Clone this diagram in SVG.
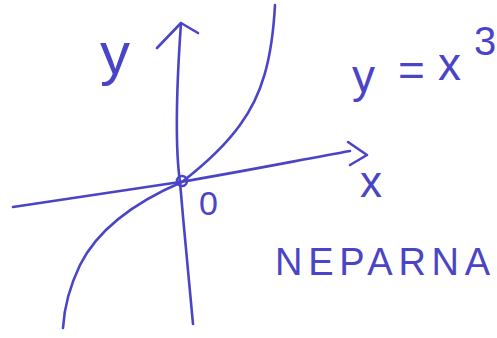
<svg xmlns="http://www.w3.org/2000/svg" width="497" height="338" viewBox="0 0 497 338">
<style>
.ln{fill:none;stroke:#4a44c6;stroke-width:2.6;stroke-linecap:round;stroke-linejoin:round}
.tx{fill:#4a44c6;font-family:"Liberation Sans","DejaVu Sans",sans-serif;font-weight:300}
</style>
<rect width="497" height="338" fill="#ffffff"/>
<g id="axes">
<path class="ln" d="M181,23 C177,80 174,140 180,182 C184,230 189,280 193,324"/>
<path class="ln" d="M157,48 L181,23 L198,33"/>
<path class="ln" d="M13,207 L180,182 C240,172 300,160 350,151"/>
<path class="ln" d="M348,142 L367,155 L350,165"/>
</g>
<g id="curve">
<path class="ln" d="M275,5 C272,60 262,95 240,125 C222,150 200,168 182,182 C140,200 100,225 80,265 C68,290 64,310 63,328"/>
<circle class="ln" cx="182" cy="181" r="5"/>
</g>
<g id="labels">
<text class="tx" x="100" y="74" font-size="60">y</text>
<text class="tx" font-size="46"><tspan x="352" y="92">y</tspan><tspan x="398" y="86">=</tspan><tspan x="438" y="80">x</tspan><tspan x="474" y="55" font-size="40">3</tspan></text>
<text class="tx" x="360" y="197" font-size="44">x</text>
<text class="tx" x="199" y="215" font-size="34">0</text>
<text class="tx" x="275" y="275" font-size="38" textLength="215" lengthAdjust="spacing">NEPARNA</text>
</g>
</svg>
